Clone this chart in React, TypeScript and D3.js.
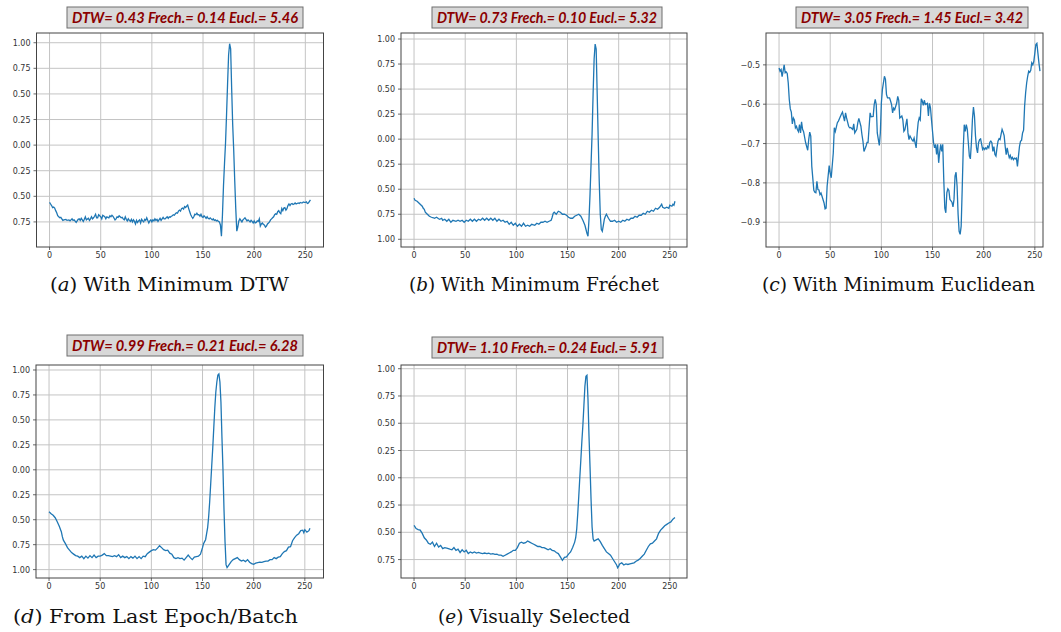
import * as d3 from "d3";

// x ticks shared by every panel
const xTicks = [0, 50, 100, 150, 200, 250];
// y ticks (the figure lost its minus signs on four panels)
const yTicksUnit = [1, 0.75, 0.5, 0.25, 0, -0.25, -0.5, -0.75, -1];
const yTicksC = [-0.5, -0.6, -0.7, -0.8, -0.9];

const titles = [
  "DTW= 0.43 Frech.= 0.14 Eucl.= 5.46",
  "DTW= 0.73 Frech.= 0.10 Eucl.= 5.32",
  "DTW= 3.05 Frech.= 1.45 Eucl.= 3.42",
  "DTW= 0.99 Frech.= 0.21 Eucl.= 6.28",
  "DTW= 1.10 Frech.= 0.24 Eucl.= 5.91",
];
const captionTags = ["a", "b", "c", "d", "e"];
const captionTexts = [
  "With Minimum DTW",
  "With Minimum Fréchet",
  "With Minimum Euclidean",
  "From Last Epoch/Batch",
  "Visually Selected",
];

// (a) with minimum DTW
const seriesA: [number, number][] = [
  [0,-0.56],[1,-0.575],[2,-0.59],[3,-0.61],[4,-0.605],[5,-0.615],[6,-0.64],[7,-0.66],[8,-0.69],[9,-0.7],
  [10,-0.71],[11,-0.705],[12,-0.72],[13,-0.735],[14,-0.73],[16,-0.725],[17,-0.735],[19,-0.73],[20,-0.74],[22,-0.72],
  [23,-0.735],[24,-0.73],[26,-0.755],[27,-0.74],[28,-0.725],[29,-0.72],[30,-0.735],[31,-0.715],[33,-0.745],[34,-0.725],
  [35,-0.7],[36,-0.73],[38,-0.715],[39,-0.735],[40,-0.72],[41,-0.7],[42,-0.72],[43,-0.71],[44,-0.695],[45,-0.675],
  [46,-0.71],[47,-0.71],[48,-0.68],[49,-0.69],[50,-0.7],[51,-0.72],[52,-0.685],[54,-0.7],[55,-0.72],[56,-0.7],
  [57,-0.705],[58,-0.71],[59,-0.69],[60,-0.7],[61,-0.685],[62,-0.695],[64,-0.73],[65,-0.72],[66,-0.7],[67,-0.705],
  [68,-0.69],[69,-0.7],[70,-0.71],[71,-0.705],[72,-0.72],[73,-0.73],[74,-0.7],[75,-0.725],[76,-0.74],[77,-0.72],
  [78,-0.735],[79,-0.745],[80,-0.725],[81,-0.75],[82,-0.73],[83,-0.745],[84,-0.77],[85,-0.735],[86,-0.755],[87,-0.74],
  [88,-0.73],[89,-0.76],[90,-0.725],[91,-0.74],[92,-0.75],[93,-0.725],[94,-0.735],[95,-0.71],[96,-0.735],[97,-0.76],
  [98,-0.74],[99,-0.73],[100,-0.75],[101,-0.73],[102,-0.74],[103,-0.72],[104,-0.735],[105,-0.725],[106,-0.745],[107,-0.73],
  [108,-0.715],[109,-0.735],[110,-0.72],[111,-0.705],[112,-0.72],[113,-0.72],[114,-0.71],[115,-0.7],[116,-0.715],[117,-0.7],
  [118,-0.705],[119,-0.695],[120,-0.69],[121,-0.68],[122,-0.685],[123,-0.67],[124,-0.66],[125,-0.665],[126,-0.645],[127,-0.635],
  [128,-0.645],[129,-0.62],[130,-0.615],[131,-0.625],[132,-0.6],[133,-0.61],[134,-0.595],[135,-0.585],[136,-0.62],[137,-0.65],
  [138,-0.68],[139,-0.7],[140,-0.715],[141,-0.7],[142,-0.675],[143,-0.68],[144,-0.665],[145,-0.68],[146,-0.68],[147,-0.695],
  [148,-0.675],[149,-0.7],[150,-0.705],[151,-0.69],[152,-0.7],[153,-0.715],[154,-0.7],[155,-0.715],[156,-0.72],[157,-0.71],
  [158,-0.72],[159,-0.73],[160,-0.72],[161,-0.735],[162,-0.73],[163,-0.74],[164,-0.735],[165,-0.745],[166,-0.75],[167,-0.78],
  [168,-0.89],[169,-0.68],[170,-0.4],[171,-0.18],[172,0.02],[173,0.3],[174,0.6],[175,0.88],[176,0.99],[177,0.94],
  [178,0.55],[179,0.2],[180,-0.05],[181,-0.35],[182,-0.62],[183,-0.84],[184,-0.8],[185,-0.74],[186,-0.72],[187,-0.735],
  [188,-0.75],[189,-0.73],[190,-0.72],[191,-0.71],[192,-0.725],[193,-0.74],[194,-0.73],[195,-0.74],[196,-0.75],[197,-0.735],
  [198,-0.745],[199,-0.76],[200,-0.74],[201,-0.76],[202,-0.755],[203,-0.74],[204,-0.745],[205,-0.72],[206,-0.79],[207,-0.77],
  [208,-0.76],[209,-0.775],[210,-0.78],[211,-0.8],[212,-0.79],[213,-0.77],[214,-0.76],[215,-0.75],[216,-0.73],[217,-0.72],
  [218,-0.71],[219,-0.7],[220,-0.68],[221,-0.67],[222,-0.675],[223,-0.65],[224,-0.64],[225,-0.66],[226,-0.67],[227,-0.62],
  [228,-0.64],[229,-0.615],[230,-0.61],[231,-0.635],[232,-0.62],[233,-0.59],[234,-0.575],[235,-0.59],[236,-0.575],[237,-0.57],
  [238,-0.58],[239,-0.575],[240,-0.565],[241,-0.575],[242,-0.57],[243,-0.565],[244,-0.57],[245,-0.56],[246,-0.565],[247,-0.565],
  [248,-0.555],[249,-0.56],[250,-0.56],[251,-0.555],[252,-0.57],[253,-0.565],[254,-0.55],[255,-0.535],
];

// (b) with minimum Fréchet
const seriesB: [number, number][] = [
  [0,-0.59],[1,-0.61],[3,-0.62],[5,-0.64],[7,-0.66],[8,-0.67],[9,-0.69],[10,-0.7],[11,-0.73],[12,-0.74],
  [13,-0.75],[15,-0.77],[17,-0.78],[19,-0.785],[20,-0.79],[22,-0.78],[24,-0.795],[25,-0.8],[27,-0.79],[28,-0.81],
  [30,-0.8],[32,-0.82],[34,-0.8],[36,-0.83],[38,-0.81],[41,-0.82],[43,-0.81],[45,-0.82],[47,-0.81],[49,-0.83],
  [51,-0.81],[53,-0.82],[55,-0.8],[57,-0.82],[59,-0.8],[61,-0.82],[63,-0.8],[65,-0.81],[67,-0.79],[69,-0.81],
  [71,-0.79],[73,-0.81],[75,-0.79],[77,-0.81],[79,-0.79],[81,-0.82],[83,-0.8],[85,-0.82],[87,-0.81],[89,-0.83],
  [91,-0.82],[93,-0.85],[95,-0.83],[97,-0.86],[99,-0.84],[101,-0.87],[103,-0.85],[105,-0.87],[107,-0.84],[109,-0.87],
  [111,-0.86],[113,-0.87],[115,-0.85],[118,-0.86],[120,-0.84],[122,-0.85],[124,-0.83],[126,-0.83],[128,-0.82],[130,-0.83],
  [132,-0.82],[134,-0.81],[135,-0.78],[136,-0.74],[137,-0.73],[139,-0.75],[141,-0.72],[143,-0.73],[145,-0.75],[147,-0.75],
  [149,-0.76],[151,-0.78],[153,-0.79],[155,-0.79],[157,-0.77],[159,-0.76],[161,-0.75],[163,-0.77],[165,-0.81],[167,-0.86],
  [168,-0.9],[169,-0.94],[170,-0.97],[171,-0.8],[172,-0.55],[173,-0.25],[174,0.05],[175,0.45],[176,0.8],[177,0.95],
  [178,0.9],[179,0.45],[180,0],[181,-0.42],[182,-0.75],[183,-0.9],[184,-0.92],[185,-0.86],[186,-0.8],[187,-0.77],
  [188,-0.75],[189,-0.77],[190,-0.79],[192,-0.82],[194,-0.82],[196,-0.81],[198,-0.83],[200,-0.82],[202,-0.83],[204,-0.81],
  [206,-0.82],[208,-0.8],[210,-0.81],[212,-0.79],[214,-0.79],[216,-0.77],[218,-0.78],[220,-0.76],[222,-0.76],[224,-0.74],
  [226,-0.75],[228,-0.72],[230,-0.73],[232,-0.71],[234,-0.72],[236,-0.69],[238,-0.7],[240,-0.68],[242,-0.65],[243,-0.68],
  [245,-0.69],[247,-0.68],[249,-0.69],[250,-0.66],[252,-0.67],[253,-0.65],[254,-0.66],[255,-0.62],
];

// (c) with minimum Euclidean
const seriesC: [number, number][] = [
  [0,-0.508],[1,-0.516],[2,-0.512],[3,-0.53],[4,-0.515],[5,-0.5],[6,-0.52],[7,-0.518],[8,-0.522],[9,-0.546],
  [10,-0.588],[11,-0.612],[12,-0.62],[13,-0.65],[14,-0.635],[15,-0.64],[16,-0.66],[17,-0.656],[18,-0.665],[19,-0.67],
  [20,-0.652],[21,-0.673],[22,-0.645],[23,-0.664],[24,-0.67],[26,-0.698],[28,-0.717],[29,-0.69],[30,-0.671],[31,-0.681],
  [32,-0.758],[34,-0.819],[35,-0.824],[36,-0.825],[37,-0.796],[38,-0.817],[39,-0.818],[40,-0.83],[41,-0.826],[42,-0.834],
  [44,-0.851],[45,-0.866],[46,-0.864],[47,-0.808],[49,-0.756],[50,-0.775],[51,-0.787],[53,-0.724],[54,-0.66],[55,-0.669],
  [57,-0.647],[58,-0.643],[59,-0.637],[61,-0.625],[62,-0.62],[64,-0.643],[65,-0.622],[66,-0.635],[68,-0.656],[69,-0.66],
  [70,-0.659],[72,-0.664],[73,-0.65],[74,-0.673],[76,-0.664],[77,-0.647],[78,-0.636],[80,-0.656],[81,-0.677],[82,-0.694],
  [83,-0.72],[85,-0.707],[86,-0.697],[87,-0.697],[89,-0.622],[90,-0.632],[92,-0.631],[93,-0.601],[94,-0.588],[95,-0.601],
  [96,-0.673],[98,-0.705],[99,-0.673],[100,-0.597],[101,-0.563],[103,-0.529],[104,-0.537],[105,-0.575],[106,-0.584],[108,-0.584],
  [109,-0.592],[110,-0.601],[111,-0.622],[112,-0.61],[113,-0.614],[115,-0.597],[116,-0.58],[117,-0.59],[118,-0.635],[120,-0.63],
  [121,-0.64],[122,-0.669],[123,-0.665],[125,-0.637],[126,-0.673],[127,-0.69],[128,-0.681],[130,-0.691],[131,-0.694],[132,-0.686],
  [134,-0.711],[135,-0.673],[136,-0.646],[137,-0.635],[138,-0.64],[139,-0.586],[140,-0.592],[141,-0.603],[142,-0.59],[143,-0.601],
  [145,-0.598],[146,-0.63],[147,-0.598],[148,-0.609],[149,-0.64],[151,-0.698],[152,-0.711],[153,-0.702],[154,-0.728],[155,-0.702],
  [156,-0.749],[157,-0.722],[158,-0.702],[159,-0.72],[160,-0.702],[161,-0.792],[162,-0.864],[163,-0.876],[164,-0.825],[165,-0.815],
  [166,-0.819],[167,-0.842],[169,-0.849],[170,-0.861],[171,-0.842],[172,-0.783],[173,-0.773],[174,-0.808],[175,-0.88],[176,-0.923],
  [177,-0.931],[178,-0.91],[179,-0.817],[180,-0.715],[181,-0.652],[182,-0.669],[183,-0.652],[184,-0.664],[185,-0.698],[186,-0.732],
  [187,-0.739],[188,-0.698],[189,-0.639],[190,-0.607],[191,-0.63],[192,-0.681],[193,-0.711],[194,-0.724],[195,-0.698],[196,-0.69],
  [197,-0.688],[198,-0.702],[199,-0.715],[200,-0.711],[201,-0.715],[202,-0.711],[203,-0.714],[204,-0.707],[205,-0.711],[206,-0.697],
  [207,-0.694],[208,-0.698],[209,-0.72],[210,-0.708],[211,-0.728],[212,-0.732],[213,-0.711],[214,-0.694],[215,-0.688],[216,-0.69],
  [217,-0.677],[218,-0.664],[219,-0.671],[220,-0.68],[221,-0.707],[222,-0.728],[223,-0.711],[224,-0.725],[225,-0.736],[226,-0.73],
  [227,-0.739],[228,-0.735],[229,-0.741],[230,-0.737],[231,-0.739],[232,-0.737],[233,-0.758],[234,-0.732],[235,-0.707],[236,-0.694],
  [237,-0.692],[238,-0.673],[239,-0.666],[240,-0.605],[241,-0.571],[242,-0.546],[243,-0.529],[244,-0.516],[245,-0.519],[246,-0.514],
  [247,-0.495],[248,-0.5],[249,-0.491],[250,-0.47],[251,-0.448],[252,-0.445],[253,-0.47],[254,-0.495],[255,-0.516],
];

// (d) from last epoch/batch
const seriesD: [number, number][] = [
  [0,-0.42],[2,-0.44],[4,-0.455],[6,-0.48],[8,-0.52],[10,-0.565],[12,-0.62],[13,-0.67],[14,-0.705],[16,-0.74],
  [18,-0.78],[20,-0.805],[22,-0.83],[24,-0.845],[26,-0.86],[28,-0.865],[30,-0.88],[32,-0.865],[34,-0.89],[36,-0.865],
  [38,-0.885],[40,-0.86],[42,-0.88],[44,-0.855],[46,-0.88],[48,-0.865],[50,-0.865],[52,-0.855],[54,-0.84],[56,-0.86],
  [58,-0.86],[60,-0.865],[62,-0.87],[64,-0.86],[66,-0.87],[68,-0.85],[70,-0.88],[72,-0.865],[74,-0.88],[76,-0.87],
  [78,-0.89],[80,-0.87],[82,-0.885],[84,-0.865],[86,-0.89],[88,-0.87],[90,-0.89],[92,-0.865],[94,-0.87],[96,-0.84],
  [98,-0.825],[100,-0.81],[102,-0.8],[104,-0.805],[106,-0.785],[108,-0.76],[110,-0.78],[112,-0.8],[114,-0.81],[116,-0.805],
  [118,-0.835],[120,-0.845],[122,-0.88],[124,-0.89],[126,-0.88],[128,-0.89],[130,-0.885],[132,-0.905],[134,-0.88],[136,-0.855],
  [138,-0.88],[140,-0.9],[142,-0.875],[144,-0.87],[146,-0.865],[148,-0.845],[150,-0.78],[151,-0.74],[152,-0.72],[153,-0.7],
  [154,-0.64],[155,-0.58],[156,-0.47],[157,-0.32],[158,-0.14],[159,0.04],[160,0.22],[161,0.42],[162,0.62],[163,0.78],
  [164,0.88],[165,0.95],[166,0.96],[167,0.88],[168,0.68],[169,0.32],[170,0],[171,-0.4],[172,-0.72],[173,-0.95],
  [174,-0.98],[175,-0.965],[176,-0.95],[178,-0.92],[180,-0.9],[182,-0.89],[184,-0.88],[186,-0.9],[188,-0.913],[190,-0.905],
  [192,-0.92],[194,-0.9],[196,-0.926],[198,-0.94],[200,-0.946],[202,-0.935],[204,-0.93],[206,-0.925],[208,-0.928],[210,-0.92],
  [212,-0.915],[214,-0.915],[216,-0.9],[218,-0.9],[220,-0.88],[222,-0.89],[224,-0.875],[226,-0.87],[228,-0.84],[230,-0.82],
  [232,-0.81],[234,-0.775],[236,-0.77],[238,-0.71],[240,-0.68],[242,-0.655],[244,-0.64],[246,-0.61],[248,-0.605],[249,-0.63],
  [250,-0.6],[252,-0.625],[254,-0.61],[255,-0.585],
];

// (e) visually selected
const seriesE: [number, number][] = [
  [0,-0.436],[2,-0.466],[4,-0.475],[6,-0.48],[8,-0.51],[10,-0.55],[12,-0.57],[14,-0.6],[16,-0.61],[18,-0.59],
  [20,-0.63],[22,-0.6],[24,-0.635],[26,-0.62],[28,-0.65],[30,-0.64],[32,-0.645],[35,-0.655],[37,-0.66],[39,-0.64],
  [41,-0.665],[43,-0.655],[45,-0.685],[47,-0.66],[49,-0.68],[51,-0.665],[53,-0.695],[55,-0.68],[57,-0.69],[59,-0.68],
  [61,-0.69],[63,-0.685],[65,-0.69],[67,-0.695],[69,-0.69],[71,-0.695],[73,-0.692],[75,-0.7],[77,-0.695],[79,-0.703],
  [81,-0.7],[83,-0.71],[85,-0.71],[87,-0.72],[89,-0.71],[91,-0.7],[93,-0.69],[95,-0.68],[97,-0.665],[99,-0.665],
  [101,-0.64],[103,-0.6],[105,-0.59],[107,-0.6],[109,-0.595],[111,-0.58],[113,-0.59],[115,-0.6],[117,-0.61],[119,-0.62],
  [121,-0.63],[123,-0.63],[125,-0.64],[127,-0.64],[129,-0.65],[131,-0.66],[133,-0.65],[135,-0.665],[137,-0.67],[139,-0.685],
  [141,-0.695],[143,-0.725],[145,-0.757],[147,-0.73],[149,-0.725],[151,-0.7],[153,-0.68],[155,-0.64],[157,-0.59],[158,-0.55],
  [159,-0.47],[160,-0.33],[161,-0.17],[162,0],[163,0.16],[164,0.33],[165,0.48],[166,0.66],[167,0.84],[168,0.93],
  [169,0.94],[170,0.72],[171,0.38],[172,0.1],[173,-0.2],[174,-0.45],[175,-0.56],[176,-0.58],[178,-0.57],[180,-0.56],
  [182,-0.585],[184,-0.62],[186,-0.65],[188,-0.68],[190,-0.695],[192,-0.71],[194,-0.74],[196,-0.77],[198,-0.8],[199,-0.825],
  [200,-0.81],[201,-0.79],[203,-0.78],[205,-0.8],[207,-0.79],[209,-0.795],[211,-0.79],[213,-0.785],[215,-0.78],[217,-0.765],
  [219,-0.755],[221,-0.74],[223,-0.72],[225,-0.7],[227,-0.665],[229,-0.63],[231,-0.605],[233,-0.6],[235,-0.58],[237,-0.56],
  [239,-0.51],[241,-0.48],[243,-0.46],[245,-0.44],[247,-0.427],[249,-0.415],[251,-0.405],[253,-0.38],[255,-0.365],
];

const allSeries = [seriesA, seriesB, seriesC, seriesD, seriesE];
const yDomains: [number, number][] = [
  [-0.995, 1.095],
  [-1.077, 1.06],
  [-0.963, -0.419],
  [-1.084, 1.05],
  [-0.919, 1.034],
];
const yTickSets = [yTicksUnit, yTicksUnit, yTicksC, yTicksUnit, yTicksUnit];

// layout: plot frames, title boxes, captions
const frames = [
  { left: 36.5, top: 33, right: 323.5, bottom: 247 },
  { left: 401, top: 33, right: 687, bottom: 247 },
  { left: 766, top: 33, right: 1043, bottom: 247 },
  { left: 36, top: 365, right: 323.5, bottom: 578 },
  { left: 401, top: 365, right: 687, bottom: 578 },
];
const titleBoxes = [
  { x: 67, y: 7, w: 236 },
  { x: 432, y: 7, w: 230 },
  { x: 796, y: 7, w: 232 },
  { x: 67, y: 335, w: 236 },
  { x: 432, y: 337, w: 231 },
];
const captionPos = [
  { x: 50, y: 291, w: 239 },
  { x: 409, y: 291, w: 250 },
  { x: 762, y: 291, w: 273 },
  { x: 13, y: 623, w: 285 },
  { x: 438, y: 623, w: 192 },
];

const AXIS_WIDTH = 287;

function Panel({ i }: { i: number }) {
  const f = frames[i];
  const x = d3.scaleLinear().domain([-12.75, 267.75]).range([f.left, f.left + AXIS_WIDTH]);
  const y = d3.scaleLinear().domain(yDomains[i]).range([f.bottom, f.top]);
  const yt = yTickSets[i].filter(v => v >= yDomains[i][0] && v <= yDomains[i][1]);
  const fmt = i === 2 ? (v: number) => "\u2212" + Math.abs(v).toFixed(1) : (v: number) => Math.abs(v).toFixed(2);
  const line = d3.line<[number, number]>().x(d => x(d[0])).y(d => y(d[1]));
  const tb = titleBoxes[i];
  const cp = captionPos[i];
  const clipId = `clip-${i}`;
  return (
    <g>
      <defs>
        <clipPath id={clipId}>
          <rect x={f.left} y={f.top} width={f.right - f.left} height={f.bottom - f.top} />
        </clipPath>
      </defs>
      {/* grid */}
      <g stroke="#c4c4c4" strokeWidth={1}>
        {xTicks.map(t => (
          <line key={"gx" + t} x1={x(t)} x2={x(t)} y1={f.top} y2={f.bottom} />
        ))}
        {yt.map(t => (
          <line key={"gy" + t} x1={f.left} x2={f.right} y1={y(t)} y2={y(t)} />
        ))}
      </g>
      <path d={line(allSeries[i]) ?? ""} fill="none" stroke="#1f77b4" strokeWidth={1.3} clipPath={`url(#${clipId})`} />
      <rect x={f.left} y={f.top} width={f.right - f.left} height={f.bottom - f.top} fill="none" stroke="#444" strokeWidth={1} />
      {/* ticks */}
      <g stroke="#444" strokeWidth={0.8}>
        {xTicks.map(t => (
          <line key={"tx" + t} x1={x(t)} x2={x(t)} y1={f.bottom} y2={f.bottom + 3} />
        ))}
        {yt.map(t => (
          <line key={"ty" + t} x1={f.left - 3} x2={f.left} y1={y(t)} y2={y(t)} />
        ))}
      </g>
      <g fontFamily="DejaVu Sans" fontSize={8} fill="#333">
        {xTicks.map(t => (
          <text key={"lx" + t} x={x(t)} y={f.bottom + 11} textAnchor="middle">{t}</text>
        ))}
        {yt.map(t => (
          <text key={"ly" + t} x={f.left - 6} y={y(t) + 3} textAnchor="end">{fmt(t)}</text>
        ))}
      </g>
      {/* title box */}
      <rect x={tb.x} y={tb.y} width={tb.w} height={21} fill="#d8d8d8" stroke="#6e6e6e" strokeWidth={1} />
      <text
        x={tb.x + 5}
        y={tb.y + 16}
        fontFamily="Lato"
        fontWeight="bold"
        fontStyle="italic"
        fontSize={15}
        fill="#8b0000"
        textLength={tb.w - 10}
        lengthAdjust="spacingAndGlyphs"
      >
        {titles[i]}
      </text>
      {/* caption */}
      <text x={cp.x} y={cp.y} fontFamily="DejaVu Serif" fontSize={18} fill="#111" textLength={cp.w} lengthAdjust="spacingAndGlyphs">
        (<tspan fontStyle="italic">{captionTags[i]}</tspan>) {captionTexts[i]}
      </text>
    </g>
  );
}

export default function App() {
  return (
    <svg width={1061} height={632} style={{ position: "absolute", left: 0, top: 0, background: "#fff" }}>
      {allSeries.map((_, i) => (
        <Panel key={i} i={i} />
      ))}
    </svg>
  );
}
